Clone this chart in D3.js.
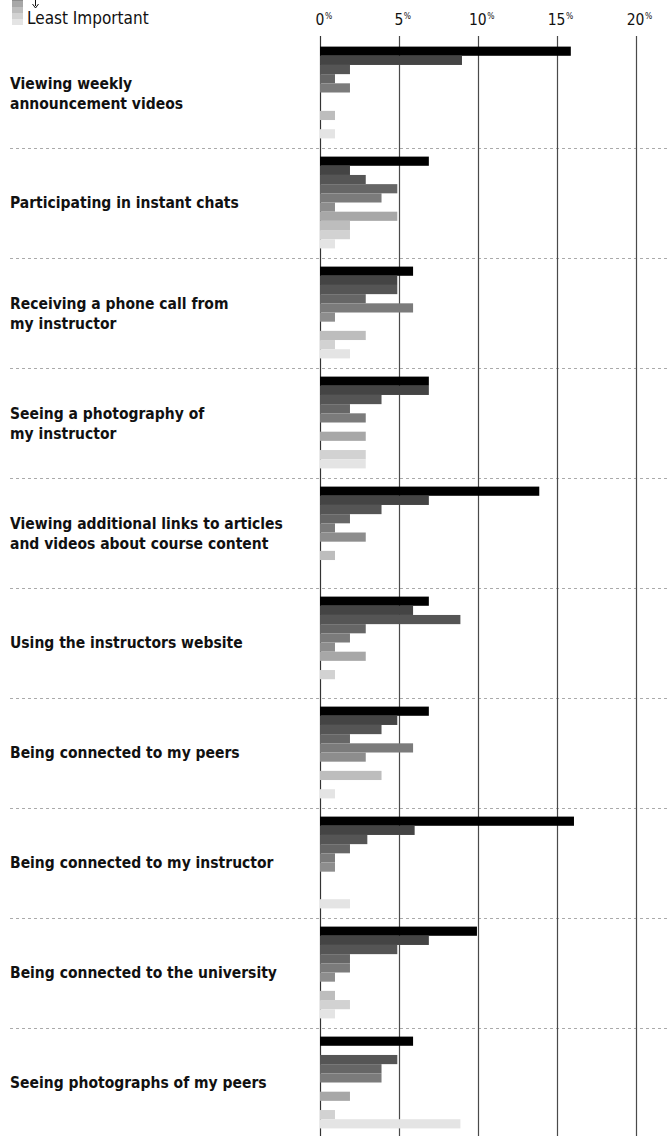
<!DOCTYPE html>
<html>
<head>
<meta charset="utf-8">
<script src="https://cdn.jsdelivr.net/npm/d3@7"></script>
<style>
  body { margin: 0; background: #fff; }
  svg { display: block; font-family: "Liberation Sans Narrow", "Arial Narrow", "DejaVu Sans Condensed", sans-serif; }
</style>
</head>
<body>
<div id="vis"></div>
<script>
// categories, one label (split into lines) per group
var categories = [
  ["Viewing weekly", "announcement videos"],
  ["Participating in instant chats"],
  ["Receiving a phone call from", "my instructor"],
  ["Seeing a photography of", "my instructor"],
  ["Viewing additional links to articles", "and videos about course content"],
  ["Using the instructors website"],
  ["Being connected to my peers"],
  ["Being connected to my instructor"],
  ["Being connected to the university"],
  ["Seeing photographs of my peers"]
];

// importance rank 1 (most) .. 10 (least)
var levels = [1, 2, 3, 4, 5, 6, 7, 8, 9, 10];

// percent of respondents for each rank
var weeklyVideos   = [15.9, 9.0, 1.9, 0.95, 1.9, 0, 0, 0.95, 0, 0.95];
var instantChats   = [6.9, 1.9, 2.9, 4.9, 3.9, 0.95, 4.9, 1.9, 1.9, 0.95];
var phoneCall      = [5.9, 4.9, 4.9, 2.9, 5.9, 0.95, 0, 2.9, 0.95, 1.9];
var instructorPhoto= [6.9, 6.9, 3.9, 1.9, 2.9, 0, 2.9, 0, 2.9, 2.9];
var extraLinks     = [13.9, 6.9, 3.9, 1.9, 0.95, 2.9, 0, 0.95, 0, 0];
var instructorSite = [6.9, 5.9, 8.9, 2.9, 1.9, 0.95, 2.9, 0, 0.95, 0];
var peers          = [6.9, 4.9, 3.9, 1.9, 5.9, 2.9, 0, 3.9, 0, 0.95];
var instructor     = [16.1, 6.0, 3.0, 1.9, 0.95, 0.95, 0, 0, 0, 1.9];
var university     = [9.95, 6.9, 4.9, 1.9, 1.9, 0.95, 0, 0.95, 1.9, 0.95];
var peerPhotos     = [5.9, 0, 4.9, 3.9, 3.9, 0, 1.9, 0, 0.95, 8.9];

var series = [weeklyVideos, instantChats, phoneCall, instructorPhoto, extraLinks,
              instructorSite, peers, instructor, university, peerPhotos];

var ticks = [0, 5, 10, 15, 20];

var colors = ["#000000", "#444444", "#555555", "#666666", "#7b7b7b",
              "#8d8d8d", "#a7a7a7", "#bdbdbd", "#d2d2d2", "#e4e4e4"];

var W = 667, H = 1136;

var svg = d3.select("#vis").append("svg")
    .attr("width", W)
    .attr("height", H);

var x = d3.scaleLinear().domain([0, 20]).range([320, 635.5]);

var y = d3.scaleBand()
    .domain(d3.range(categories.length))
    .range([38, 38 + 110 * categories.length]);

var yInner = d3.scaleBand()
    .domain(levels)
    .range([8.6, 100.4]);

var color = d3.scaleOrdinal().domain(levels).range(colors);

// dashed separators between groups
svg.selectAll("line.sep")
    .data(d3.range(1, categories.length))
    .enter().append("line")
    .attr("class", "sep")
    .attr("x1", 10).attr("x2", W)
    .attr("y1", function(d) { return y(d) + 0.5; })
    .attr("y2", function(d) { return y(d) + 0.5; })
    .attr("stroke", "#aaaaaa")
    .attr("stroke-width", 1)
    .attr("stroke-dasharray", "3,3");

// vertical grid
svg.selectAll("line.grid")
    .data(ticks)
    .enter().append("line")
    .attr("class", "grid")
    .attr("x1", function(d) { return Math.round(x(d)) + 0.5; })
    .attr("x2", function(d) { return Math.round(x(d)) + 0.5; })
    .attr("y1", 36).attr("y2", H)
    .attr("stroke", function(d) { return d == 0 ? "#333" : "#4a4a4a"; })
    .attr("stroke-width", 1.2);

// bars
var groups = svg.selectAll("g.group")
    .data(series)
    .enter().append("g")
    .attr("class", "group")
    .attr("transform", function(d, i) { return "translate(0," + y(i) + ")"; });

groups.selectAll("rect")
    .data(function(d) { return d.map(function(v, j) { return {level: levels[j], value: v}; }); })
    .enter().append("rect")
    .attr("x", x(0))
    .attr("y", function(d) { return yInner(d.level); })
    .attr("width", function(d) { return x(d.value) - x(0); })
    .attr("height", yInner.bandwidth())
    .attr("fill", function(d) { return color(d.level); });

// category labels
svg.selectAll("text.cat")
    .data(categories)
    .enter().append("text")
    .attr("class", "cat")
    .attr("x", 10)
    .attr("y", function(d, i) {
        var c = y(i) + y.bandwidth() / 2;
        return d.length == 2 ? c - 4 : c + 5;
    })
    .attr("font-size", 15.5)
    .attr("font-weight", "bold")
    .attr("fill", "#111")
    .each(function(d) {
        var t = d3.select(this);
        d.forEach(function(line, k) {
            t.append("tspan")
                .attr("x", 10)
                .attr("dy", k == 0 ? 0 : 20)
                .text(line);
        });
    });

// tick labels: number centred on the tick, % as a superscript after it
var tick = svg.selectAll("g.tick")
    .data(ticks)
    .enter().append("g")
    .attr("class", "tick")
    .attr("transform", function(d) { return "translate(" + x(d) + ",25)"; });

tick.append("text")
    .attr("text-anchor", "middle")
    .attr("font-size", 15.5)
    .attr("fill", "#111")
    .text(function(d) { return d; })
    .each(function() {
        var w = this.getComputedTextLength();
        d3.select(this.parentNode).append("text")
            .attr("x", w / 2 + 0.5)
            .attr("y", -6)
            .attr("font-size", 8.5)
            .attr("fill", "#111")
            .text("%");
    });

// legend (top part cut off by the frame)
var legend = svg.append("g");
legend.selectAll("rect")
    .data(levels)
    .enter().append("rect")
    .attr("x", 12)
    .attr("y", function(d) { return 25 - (11 - d) * 6; })
    .attr("width", 11)
    .attr("height", 6)
    .attr("fill", function(d) { return color(d); });

legend.append("line")
    .attr("x1", 35.5).attr("x2", 35.5)
    .attr("y1", -4).attr("y2", 6)
    .attr("stroke", "#111").attr("stroke-width", 1);
legend.append("path")
    .attr("d", "M32.5,4 L35.5,8 L38.5,4")
    .attr("fill", "none")
    .attr("stroke", "#111").attr("stroke-width", 1);

legend.append("text")
    .attr("x", 27)
    .attr("y", 24)
    .attr("font-size", 17)
    .attr("fill", "#111")
    .text("Least Important");
</script>
</body>
</html>
